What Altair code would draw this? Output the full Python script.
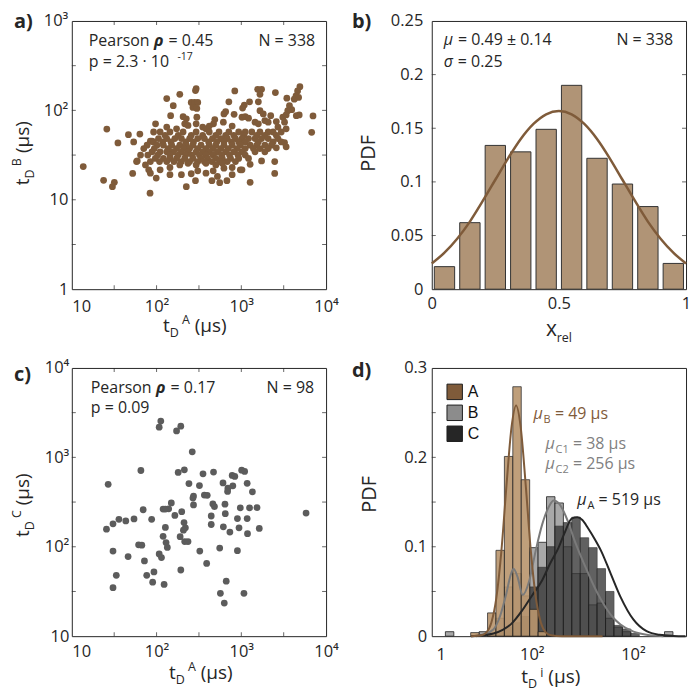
import altair as alt
import pandas as pd

FONT = "Open Sans"
INK = "#262626"
BROWN = "#7f5b3a"
GRAYTXT = "#808080"
W, H = 255, 269

# ---------------- data ----------------
# panel a: (log10 tD^A, log10 tD^B) in µs
a_pts_log = [
    (1.135, 1.372), (1.375, 1.217), (1.413, 1.791), (1.479, 1.147), (1.502, 1.195), (1.544, 1.636),
    (1.668, 1.728), (1.730, 1.647), (1.803, 1.735), (1.718, 1.294), (1.764, 1.427), (1.923, 1.074),
    (1.946, 1.655), (1.988, 1.849), (1.996, 1.243), (2.120, 2.132), (2.197, 2.052), (2.166, 1.941),
    (2.274, 2.180), (2.467, 2.243), (2.459, 2.221), (2.409, 2.088), (2.448, 2.088), (2.486, 2.088),
    (2.429, 2.033), (2.475, 2.022), (2.313, 1.930), (2.351, 1.905), (2.475, 1.923), (2.687, 1.897),
    (2.672, 1.849), (2.795, 1.960), (2.815, 1.985), (2.915, 1.956), (2.853, 2.096), (2.923, 2.217),
    (3.097, 2.096), (3.035, 2.059), (3.015, 2.026), (3.008, 1.923), (3.046, 1.930), (3.085, 1.912),
    (3.193, 2.235), (3.239, 2.235), (3.220, 2.180), (3.201, 2.096), (3.220, 1.996), (3.259, 1.960),
    (3.347, 1.941), (3.402, 2.199), (3.537, 2.136), (3.568, 2.052), (3.595, 2.008), (3.548, 1.996),
    (3.691, 2.265), (3.664, 2.217), (3.645, 2.162), (3.625, 2.125), (3.676, 2.144), (3.490, 1.923),
    (3.529, 1.949), (3.510, 1.868), (3.683, 1.949), (3.649, 1.941), (3.846, 1.938), (3.830, 1.754),
    (2.120, 1.813), (2.236, 1.794), (2.332, 1.849), (2.371, 1.831), (2.467, 1.849), (2.544, 1.813),
    (2.583, 1.794), (2.622, 1.824), (2.892, 1.824), (2.788, 1.868), (3.162, 1.868), (3.201, 1.849),
    (3.278, 1.886), (3.317, 1.868), (3.413, 1.875), (3.432, 1.813), (3.529, 1.794),
    (1.965, 1.758), (2.042, 1.758), (2.158, 1.758), (2.313, 1.758), (2.467, 1.758), (2.622, 1.758),
    (2.737, 1.758), (2.853, 1.758), (2.969, 1.758), (3.046, 1.758), (3.124, 1.758), (3.220, 1.758),
    (3.317, 1.758), (3.375, 1.758), (3.471, 1.758),
    (2.100, 1.721), (2.255, 1.721), (2.409, 1.721), (2.544, 1.721), (2.699, 1.721), (2.815, 1.721),
    (2.911, 1.721), (3.027, 1.721), (3.181, 1.721), (3.278, 1.721), (3.413, 1.721),
    (2.023, 1.684), (2.120, 1.684), (2.216, 1.684), (2.293, 1.684), (2.390, 1.684), (2.486, 1.684),
    (2.564, 1.684), (2.660, 1.684), (2.757, 1.684), (2.834, 1.684), (2.931, 1.684), (3.008, 1.684),
    (3.085, 1.684), (3.162, 1.684), (3.239, 1.684), (3.317, 1.684), (3.432, 1.684),
    (1.927, 1.655), (3.510, 1.640), (3.529, 1.592),
    (1.965, 1.647), (2.073, 1.647), (2.170, 1.647), (2.344, 1.647), (2.436, 1.647), (2.614, 1.647),
    (2.710, 1.647), (2.795, 1.647), (2.884, 1.647), (2.969, 1.647), (3.046, 1.647), (3.201, 1.647),
    (3.375, 1.647), (3.471, 1.647),
    (1.888, 1.610), (2.004, 1.610), (2.081, 1.610), (2.178, 1.610), (2.274, 1.610), (2.351, 1.610),
    (2.429, 1.610), (2.525, 1.610), (2.622, 1.610), (2.699, 1.610), (2.795, 1.610), (2.892, 1.610),
    (2.988, 1.610), (3.104, 1.610), (3.181, 1.610), (3.278, 1.610), (3.355, 1.610), (3.413, 1.581),
    (1.849, 1.573), (1.973, 1.573), (2.139, 1.573), (2.236, 1.573), (2.320, 1.573), (2.390, 1.573),
    (2.486, 1.573), (2.583, 1.573), (2.668, 1.573), (2.757, 1.573), (2.846, 1.573), (2.950, 1.573),
    (3.046, 1.573), (3.143, 1.573), (3.220, 1.573), (3.317, 1.573),
    (1.946, 1.537), (2.042, 1.537), (2.120, 1.537), (2.197, 1.537), (2.293, 1.537), (2.371, 1.537),
    (2.467, 1.537), (2.544, 1.537), (2.622, 1.537), (2.718, 1.537), (2.815, 1.537), (2.911, 1.537),
    (3.008, 1.537), (3.162, 1.537), (3.278, 1.537), (1.811, 1.500), (1.772, 1.434),
    (1.896, 1.500), (2.012, 1.500), (2.158, 1.500), (2.255, 1.500), (2.344, 1.500), (2.421, 1.500),
    (2.506, 1.500), (2.583, 1.500), (2.668, 1.500), (2.768, 1.500), (2.861, 1.500), (2.961, 1.500),
    (3.046, 1.500),
    (1.985, 1.463), (2.081, 1.463), (2.158, 1.463), (2.236, 1.463), (2.332, 1.463), (2.429, 1.463),
    (2.525, 1.463), (2.602, 1.463), (2.699, 1.463), (2.776, 1.463), (2.873, 1.463), (2.969, 1.463),
    (3.085, 1.463), (3.239, 1.434), (3.394, 1.427), (1.869, 1.390),
    (1.927, 1.427), (2.035, 1.427), (2.120, 1.427), (2.205, 1.427), (2.293, 1.427), (2.390, 1.427),
    (2.486, 1.427), (2.564, 1.427), (2.653, 1.427), (2.745, 1.427), (2.834, 1.427), (2.931, 1.427),
    (1.907, 1.335), (2.042, 1.335), (2.158, 1.361), (2.274, 1.390), (2.371, 1.408), (2.467, 1.390),
    (2.583, 1.408), (2.699, 1.390), (2.795, 1.353), (2.892, 1.361), (2.988, 1.335), (3.104, 1.397),
    (2.776, 1.408),
    (1.927, 1.298), (2.158, 1.280), (2.293, 1.280), (2.409, 1.291), (2.486, 1.324), (2.583, 1.298),
    (2.668, 1.324), (2.718, 1.261), (2.459, 1.214), (2.351, 1.147), (2.653, 1.214), (2.745, 1.191),
    (2.830, 1.214), (2.892, 1.280), (3.104, 1.195), (3.394, 1.294), (3.008, 1.335),
]

# panel b: histogram of x_rel and its fitted curve
b_bin_center = [0.05, 0.15, 0.25, 0.35, 0.45, 0.55, 0.65, 0.75, 0.85, 0.95]
b_pdf = [0.021, 0.062, 0.134, 0.128, 0.149, 0.190, 0.122, 0.098, 0.077, 0.024]
b_fit_x = [0.0, 0.05, 0.1, 0.15, 0.2, 0.25, 0.3, 0.35, 0.4, 0.45, 0.5, 0.55, 0.6, 0.65, 0.7,
           0.75, 0.8, 0.85, 0.9, 0.95, 1.0]
b_fit_y = [0.024, 0.034, 0.047, 0.063, 0.082, 0.102, 0.122, 0.140, 0.154, 0.163, 0.166, 0.163,
           0.154, 0.140, 0.122, 0.102, 0.082, 0.063, 0.047, 0.034, 0.024]

# panel c: (log10 tD^A, log10 tD^C) in µs
c_pts_log = [
    (2.050, 3.406), (2.031, 3.337), (2.286, 3.348), (2.236, 3.296), (2.421, 3.062), (1.815, 2.853),
    (2.255, 2.831), (2.328, 2.860), (2.548, 2.816), (2.672, 2.835), (2.892, 2.798), (2.923, 2.787),
    (3.004, 2.857), (3.039, 2.842), (1.429, 2.699), (2.382, 2.707), (2.506, 2.685), (2.784, 2.714),
    (2.900, 2.681), (2.842, 2.655), (2.838, 2.619), (3.069, 2.710), (3.131, 2.615), (2.436, 2.567),
    (2.429, 2.545), (2.564, 2.578), (2.598, 2.575), (2.436, 2.468), (2.664, 2.479), (2.683, 2.450),
    (2.807, 2.476), (2.988, 2.436), (3.097, 2.436), (3.185, 2.439), (3.764, 2.377), (2.174, 2.490),
    (2.143, 2.425), (2.077, 2.421), (2.104, 2.421), (1.842, 2.414), (2.297, 2.392), (2.216, 2.351),
    (2.645, 2.344), (2.811, 2.370), (2.954, 2.315), (3.069, 2.315), (1.409, 2.197), (1.486, 2.256),
    (1.556, 2.307), (1.637, 2.289), (1.734, 2.311), (1.942, 2.307), (2.324, 2.271), (2.340, 2.212),
    (2.317, 2.186), (2.104, 2.216), (2.645, 2.249), (2.788, 2.223), (2.865, 2.164), (2.973, 2.212),
    (3.073, 2.146), (3.212, 2.205), (2.077, 2.117), (2.278, 2.113), (2.112, 2.047), (2.127, 1.992),
    (2.332, 2.058), (2.371, 2.058), (1.788, 2.022), (1.826, 2.018), (1.486, 1.952), (2.031, 1.919),
    (2.058, 1.879), (2.510, 1.952), (2.745, 1.985), (2.954, 1.956), (1.664, 1.890), (1.857, 1.842),
    (2.591, 1.813), (2.286, 1.740), (1.525, 1.681), (1.884, 1.681), (1.969, 1.718), (1.954, 1.604),
    (2.089, 1.578), (1.486, 1.542), (2.822, 1.615), (2.753, 1.479), (3.031, 1.479), (2.799, 1.370),
]

# panel d: histograms on the t_D^i axis (axis units as drawn), bins of 1/12
d_bin_lo = [1.0625, 1.1458, 1.2292, 1.3125, 1.3958, 1.4792, 1.5625, 1.6458, 1.7292, 1.8125,
            1.8958, 1.9792, 2.0625, 2.1458, 2.2292, 2.3125, 2.3958, 2.4792, 2.5625, 2.6458,
            2.7292, 2.8125, 2.8958, 2.9792, 3.0625, 3.1458, 3.2292, 3.3125]
d_bin_w = 0.0833
d_pdf_A = [0, 0, 0, 0, 0.004, 0, 0.026, 0.096, 0.201, 0.279, 0.175, 0.03, 0.005, 0,
           0, 0, 0, 0, 0, 0, 0, 0, 0, 0, 0, 0, 0, 0]
d_pdf_B = [0, 0.005, 0, 0, 0, 0.005, 0, 0.02, 0.055, 0.07, 0.045, 0.099, 0.105, 0.156,
           0.149, 0.1, 0.07, 0.07, 0.035, 0.037, 0.02, 0.01, 0.005, 0, 0, 0, 0, 0.005]
d_pdf_C = [0, 0, 0, 0, 0, 0, 0.002, 0.005, 0.01, 0.015, 0.022, 0.055, 0.077, 0.1,
           0.123, 0.127, 0.133, 0.11, 0.099, 0.0755, 0.05, 0.012, 0.008, 0.003, 0, 0, 0, 0]
d_fit_brown_u = [1.40, 1.50, 1.55, 1.60, 1.65, 1.70, 1.75, 1.80, 1.845, 1.89, 1.94, 1.99,
                 2.04, 2.09, 2.14, 2.19, 2.30, 2.70]
d_fit_brown_y = [0.0, 0.001, 0.004, 0.015, 0.043, 0.096, 0.169, 0.234, 0.258, 0.234, 0.169,
                 0.096, 0.043, 0.015, 0.004, 0.001, 0.0, 0.0]
d_fit_gray_u = [1.45, 1.523, 1.62, 1.685, 1.749, 1.79, 1.82, 1.86, 1.91, 1.975, 2.039, 2.103,
                2.17, 2.217, 2.265, 2.313, 2.362, 2.42, 2.49, 2.555, 2.619, 2.684, 2.749, 2.81,
                2.877, 3.006, 3.135, 3.30]
d_fit_gray_y = [0.0, 0.002, 0.0074, 0.022, 0.048, 0.068, 0.0755, 0.066, 0.046, 0.062, 0.0957,
                0.125, 0.145, 0.1517, 0.149, 0.140, 0.127, 0.108, 0.088, 0.071, 0.055, 0.041,
                0.029, 0.020, 0.013, 0.005, 0.0015, 0.0]
d_fit_black_u = [1.40, 1.523, 1.62, 1.717, 1.80, 1.91, 2.00, 2.103, 2.18, 2.265, 2.33, 2.394,
                 2.45, 2.50, 2.555, 2.62, 2.684, 2.78, 2.877, 3.006, 3.135, 3.264, 3.40, 3.52]
d_fit_black_y = [0.0, 0.001, 0.003, 0.0074, 0.014, 0.0295, 0.045, 0.0626, 0.081, 0.099, 0.117,
                 0.1315, 0.133, 0.130, 0.121, 0.109, 0.0957, 0.070, 0.044, 0.0184, 0.0055,
                 0.0015, 0.0003, 0.0]
d_series = ["A", "B", "C"]
d_legend_colors = [BROWN, "#8c8c8c", INK]

# ---------------- helpers ----------------
CW = {" ": .26, ".": .266, "=": .572, "±": .572, "·": .266, "(": .291, ")": .291, "-": .322,
      "µ": .635, "μ": .635, "σ": .62, "ρ": .62, "P": .603, "e": .56, "a": .556, "r": .408,
      "s": .477, "o": .604, "n": .614, "p": .613, "t": .353, "x": .513, "l": .253, "i": .253,
      "N": .742, "D": .722, "B": .659, "A": .633, "C": .634, "F": .537}


def text_w(s, size, bold=False):
    w = sum(0.572 if ch.isdigit() else CW.get(ch, 0.55) for ch in s)
    return w * size * (1.07 if bold else 1.0)


def rich(pieces, x, y, anchor="left", angle=0, color=INK):
    widths = [text_w(p[0], p[1], len(p) > 3 and "b" in p[3]) for p in pieces]
    total = sum(widths)
    off = {"left": 0.0, "center": -total / 2, "right": -total}[anchor]
    out = []
    for p, w in zip(pieces, widths):
        txt, size = p[0], p[1]
        dy = p[2] if len(p) > 2 else 0
        sty = p[3] if len(p) > 3 else ""
        lead = len(txt) - len(txt.lstrip(" "))
        core = txt.strip(" ")
        mk = dict(align="left", baseline="alphabetic", font=FONT, fontSize=size, color=color,
                  angle=angle, dx=off + lead * 0.26 * size, dy=dy)
        if "b" in sty:
            mk["fontWeight"] = "bold"
        if "i" in sty:
            mk["fontStyle"] = "italic"
        out.append(alt.Chart(pd.DataFrame({"t": [core]}))
                   .mark_text(**mk).encode(x=alt.value(x), y=alt.value(y), text="t:N"))
        off += w
    return out


def inner_ticks(xvals, sx, ax, yvals, sy, ay, sides_y=(True, True), sides_x=(True, True)):
    out = []
    if yvals:
        df = pd.DataFrame({"v": yvals})
        for use, xp in zip(sides_y, [2, W - 2]):
            if use:
                out.append(alt.Chart(df).mark_tick(orient="horizontal", size=4, thickness=1, color=INK)
                           .encode(x=alt.value(xp), y=alt.Y("v:Q", scale=sy, axis=ay)))
    if xvals:
        df = pd.DataFrame({"v": xvals})
        for use, yp in zip(sides_x, [H - 2, 2]):
            if use:
                out.append(alt.Chart(df).mark_tick(orient="vertical", size=4, thickness=1, color=INK)
                           .encode(y=alt.value(yp), x=alt.X("v:Q", scale=sx, axis=ax)))
    return out


LOGEXPR = ("datum.value >= 9999 ? '10⁴' : datum.value >= 999 ? '10³' : "
           "datum.value >= 99 ? '10²' : datum.value >= 9 ? '10' : '1'")
FIRST_LEFT = {"condition": {"test": "datum.value < 11", "value": "left"}, "value": "center"}


def tD_title(sup, sup_dy=-8):
    return [("t", 19), ("D", 12.5, 5), (" " + sup, 12.5, sup_dy), (" (µs)", 19)]


# ---------------- panel a ----------------
sc_ax = alt.Scale(type="log", domain=[10, 10000], nice=False)
sc_ay = alt.Scale(type="log", domain=[1, 1000], nice=False)
ax_ax = alt.Axis(values=[10, 100, 1000, 10000], labelExpr=LOGEXPR, title=None, labelPadding=9,
                 labelAlign=FIRST_LEFT)
ax_ay = alt.Axis(values=[1, 10, 100, 1000], labelExpr=LOGEXPR, title=None, labelPadding=4)
df_a = pd.DataFrame(a_pts_log, columns=["la", "lb"])
df_a["tA"] = 10 ** df_a["la"]
df_a["tB"] = 10 ** df_a["lb"]
pts_a = alt.Chart(df_a).mark_circle(size=46, color=BROWN, opacity=1).encode(
    x=alt.X("tA:Q", scale=sc_ax, axis=ax_ax), y=alt.Y("tB:Q", scale=sc_ay, axis=ax_ay))
half_a_y = [10 ** 0.5, 10, 10 ** 1.5, 100, 10 ** 2.5]
half_a_x = [10 ** 1.5, 100, 10 ** 2.5, 1000, 10 ** 3.5]
layers_a = [pts_a] + inner_ticks(half_a_x, sc_ax, ax_ax, half_a_y, sc_ay, ax_ay)
layers_a += rich([("a)", 20, 0, "b")], -58, 7)
layers_a += rich([("Pearson ", 16), ("ρ", 16, 0, "bi"), (" = 0.45", 16)], 17, 25.5)
layers_a += rich([("p = 2.3 · 10", 16), ("   -17", 10.5, -7)], 17, 46.5)
layers_a += rich([("N = 338", 16)], W - 11, 25.5, anchor="right")
layers_a += rich(tD_title("A"), W / 2 - 4, H + 43, anchor="center")
layers_a += rich(tD_title("B"), -43, H / 2 - 2, anchor="center", angle=270)
panel_a = alt.layer(*layers_a).properties(width=W, height=H)

# ---------------- panel b ----------------
sc_bx = alt.Scale(domain=[0, 1], nice=False)
sc_by = alt.Scale(domain=[0, 0.25], nice=False)
ax_bx = alt.Axis(values=[0, 0.5, 1], format="~g", title=None, labelPadding=6)
ax_by = alt.Axis(values=[0, 0.05, 0.1, 0.15, 0.2, 0.25], format="~g", title=None, labelPadding=9)
df_b = pd.DataFrame({"c": b_bin_center, "pdf": b_pdf})
df_b["lo"] = df_b["c"] - 0.04
df_b["hi"] = df_b["c"] + 0.04
bars_b = alt.Chart(df_b).mark_rect(color="#b09476", stroke="#333333", strokeWidth=1).encode(
    x=alt.X("lo:Q", scale=sc_bx, axis=ax_bx), x2="hi:Q",
    y=alt.Y("pdf:Q", scale=sc_by, axis=ax_by), y2=alt.datum(0))
fit_b = alt.Chart(pd.DataFrame({"x": b_fit_x, "y": b_fit_y})).mark_line(
    color=BROWN, strokeWidth=2.5, interpolate="monotone").encode(
    x=alt.X("x:Q", scale=sc_bx, axis=ax_bx), y=alt.Y("y:Q", scale=sc_by, axis=ax_by))
layers_b = [bars_b, fit_b] + inner_ticks(None, sc_bx, ax_bx, [0.05, 0.1, 0.15, 0.2], sc_by, ax_by)
layers_b += rich([("b)", 20, 0, "b")], -80, 7)
layers_b += rich([("μ", 16, 0, "i"), (" = 0.49 ± 0.14", 16)], 12, 24.5)
layers_b += rich([("σ", 16, 0, "i"), (" = 0.25", 16)], 12, 46)
layers_b += rich([("N = 338", 16)], W - 13, 24.5, anchor="right")
layers_b += rich([("PDF", 20)], -57, H / 2 - 2, anchor="center", angle=270)
layers_b += rich([("x", 21), ("rel", 12.5, 6)], W / 2, H + 47, anchor="center")
panel_b = alt.layer(*layers_b).properties(width=W, height=H)

# ---------------- panel c ----------------
sc_cx = alt.Scale(type="log", domain=[10, 10000], nice=False)
sc_cy = alt.Scale(type="log", domain=[10, 10000], nice=False)
ax_cx = alt.Axis(values=[10, 100, 1000, 10000], labelExpr=LOGEXPR, title=None, labelPadding=7,
                 labelAlign=FIRST_LEFT)
ax_cy = alt.Axis(values=[10, 100, 1000, 10000], labelExpr=LOGEXPR, title=None, labelPadding=3)
df_c = pd.DataFrame(c_pts_log, columns=["la", "lc"])
df_c["tA"] = 10 ** df_c["la"]
df_c["tC"] = 10 ** df_c["lc"]
pts_c = alt.Chart(df_c).mark_circle(size=46, color="#5c5c5c", opacity=1).encode(
    x=alt.X("tA:Q", scale=sc_cx, axis=ax_cx), y=alt.Y("tC:Q", scale=sc_cy, axis=ax_cy))
half_c = [10 ** 1.5, 100, 10 ** 2.5, 1000, 10 ** 3.5]
layers_c = [pts_c] + inner_ticks(half_c, sc_cx, ax_cx, half_c, sc_cy, ax_cy)
layers_c += rich([("c)", 20, 0, "b")], -58, 13)
layers_c += rich([("Pearson ", 16), ("ρ", 16, 0, "bi"), (" = 0.17", 16)], 19, 25)
layers_c += rich([("p = 0.09", 16)], 19, 45)
layers_c += rich([("N = 98", 16)], W - 12, 25, anchor="right")
layers_c += rich(tD_title("A"), W / 2 + 2, H + 43, anchor="center")
layers_c += rich(tD_title("C"), -43, H / 2 + 3, anchor="center", angle=270)
panel_c = alt.layer(*layers_c).properties(width=W, height=H)

# ---------------- panel d ----------------
sc_dx = alt.Scale(domain=[1.011, 3.525], nice=False, zero=False)
sc_dy = alt.Scale(domain=[0, 0.3], nice=False)
ax_dx = alt.Axis(values=[1.10, 2.0, 3.0], labelExpr="datum.value < 1.5 ? '1' : '10²'",
                 title=None, labelPadding=10)
ax_dy = alt.Axis(values=[0, 0.1, 0.2, 0.3], format="~g", title=None, labelPadding=5)


def d_bars(pdf, fill, opacity):
    df = pd.DataFrame({"lo": d_bin_lo, "pdf": pdf})
    df = df[df["pdf"] > 0].copy()
    df["hi"] = df["lo"] + d_bin_w
    return alt.Chart(df).mark_rect(color=fill, opacity=opacity, stroke="#1e1e1e",
                                   strokeWidth=0.8).encode(
        x=alt.X("lo:Q", scale=sc_dx, axis=ax_dx), x2="hi:Q",
        y=alt.Y("pdf:Q", scale=sc_dy, axis=ax_dy), y2=alt.datum(0))


def d_fit(u, y, color):
    return alt.Chart(pd.DataFrame({"u": u, "y": y})).mark_line(
        color=color, strokeWidth=2, interpolate="monotone").encode(
        x=alt.X("u:Q", scale=sc_dx, axis=ax_dx), y=alt.Y("y:Q", scale=sc_dy, axis=ax_dy))


def legend_item(i, name, color):
    top = 16 + 21 * i
    sq = alt.Chart(pd.DataFrame({"s": [name]})).mark_square(
        size=240, color=color, opacity=1, stroke="#1e1e1e", strokeWidth=1).encode(
        x=alt.value(23), y=alt.value(top + 8))
    tx = alt.Chart(pd.DataFrame({"s": [name]})).mark_text(
        align="left", baseline="middle", font="Liberation Sans", fontSize=16, color="#111111").encode(
        x=alt.value(36), y=alt.value(top + 8), text="s:N")
    return [sq, tx]


layers_d = [
    d_bars(d_pdf_B, "#a8a8a8", 1.0),
    d_bars(d_pdf_C, "#3a3a3a", 0.8),
    d_bars(d_pdf_A, "#b9956d", 0.9),
    d_fit(d_fit_gray_u, d_fit_gray_y, "#7a7a7a"),
    d_fit(d_fit_black_u, d_fit_black_y, INK),
    d_fit(d_fit_brown_u, d_fit_brown_y, BROWN),
]
for i, (nm, col) in enumerate(zip(d_series, d_legend_colors)):
    layers_d += legend_item(i, nm, col)
layers_d += inner_ticks(None, sc_dx, ax_dx, [0.05, 0.1, 0.15, 0.2, 0.25], sc_dy, ax_dy,
                        sides_y=(True, False))
layers_d += rich([("d)", 20, 0, "b")], -80, 9)
layers_d += rich([("μ", 16, 0, "i"), ("B", 11, 4), (" = 49 µs", 16)], 102, 51, color=BROWN)
layers_d += rich([("μ", 16, 0, "i"), ("C1", 11, 4), (" = 38 µs", 16)], 114, 81, color=GRAYTXT)
layers_d += rich([("μ", 16, 0, "i"), ("C2", 11, 4), (" = 256 µs", 16)], 114, 101, color=GRAYTXT)
layers_d += rich([("μ", 16, 0, "i"), ("A", 11, 4), (" = 519 µs", 16)], 146, 137, color=INK)
layers_d += rich(tD_title("i", -6), W / 2 - 8, H + 47, anchor="center")
layers_d += rich([("PDF", 20)], -56, H / 2 - 8, anchor="center", angle=270)
panel_d = alt.layer(*layers_d).properties(width=W, height=H)

# ---------------- assemble ----------------
chart = alt.concat(
    panel_a, panel_b, panel_c, panel_d, columns=2,
    spacing=alt.RowColnumber(row=79, column=106), bounds="flush"
).properties(
    padding={"left": 2, "top": 2, "right": 0, "bottom": 0}, background="white"
).configure_view(stroke=INK, strokeWidth=1).configure_axis(
    labelFont=FONT, labelFontSize=16.5, labelColor=INK, domain=False, ticks=False,
    grid=False, labelFlush=False, labelOverlap=False
)

chart.save("out.html", embed_options={"renderer": "svg", "actions": False})
